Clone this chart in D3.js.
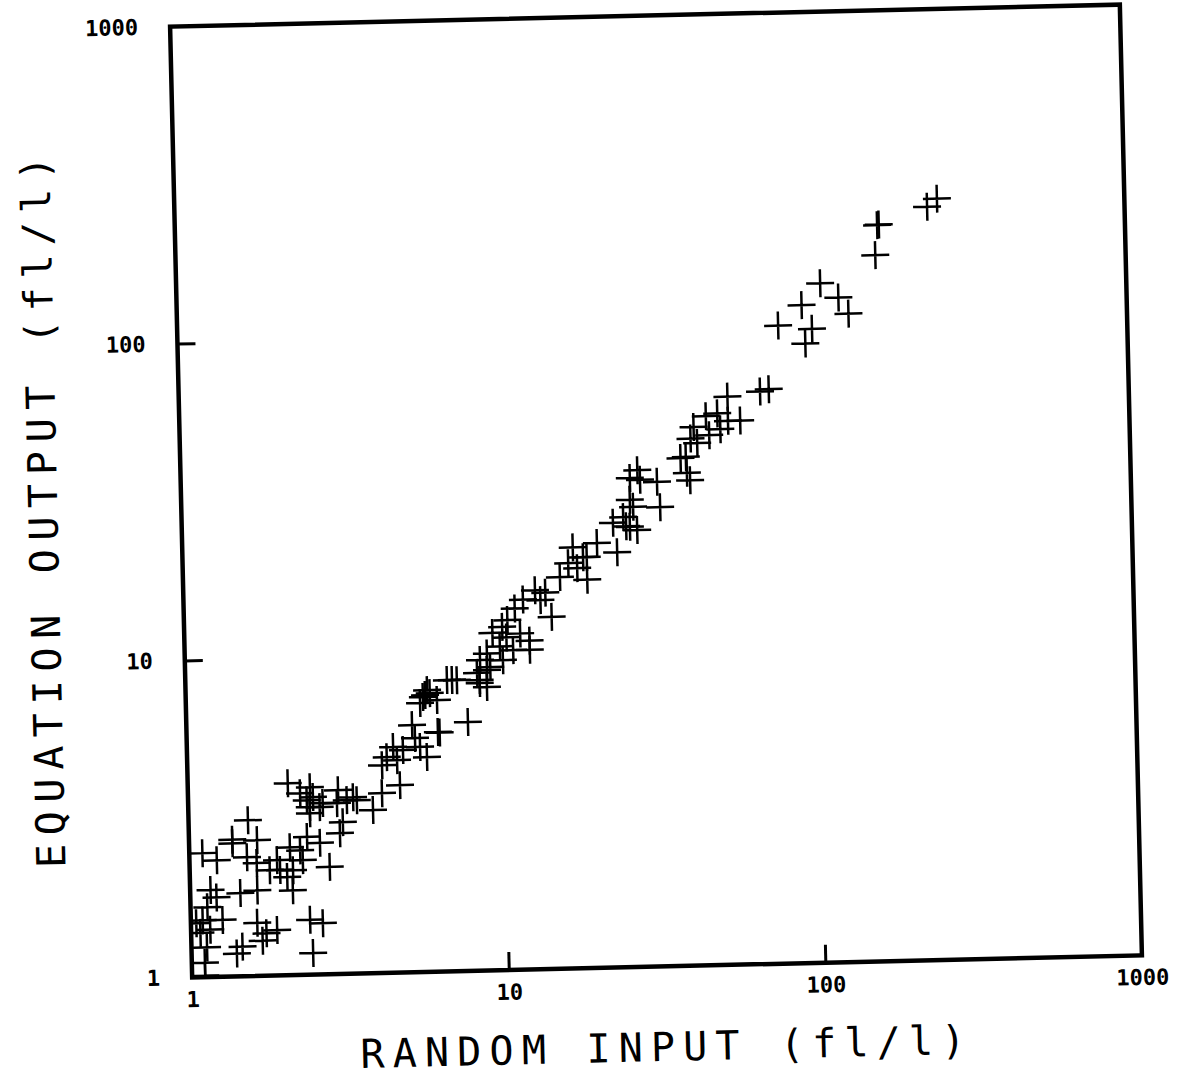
<!DOCTYPE html>
<html>
<head>
<meta charset="utf-8">
<script src="https://cdn.jsdelivr.net/npm/d3@7"></script>
<style>
  html, body { margin: 0; padding: 0; background: #fff; }
  svg { display: block; }
</style>
</head>
<body>
<svg id="chart" width="1185" height="1076"></svg>
<script>
// ---- data ----
const xTitle = "RANDOM INPUT (fl/l)";
const yTitle = "EQUATION OUTPUT (fl/l)";
const tickValues = [1, 10, 100, 1000];
const tickLabels = ["1", "10", "100", "1000"];
const innerTicks = [10, 100];

const randomInput = [
  238, 256, 165, 167, 162, 108, 123, 132, 94, 79, 101, 96,
  68.5, 73, 54, 46, 50, 54, 59, 51, 42, 47, 41, 43, 38, 39.5,
  39.7, 40.6, 27.7, 26.2, 28.2, 31.9, 32.5, 26.1, 26.7, 24.8, 26, 25.3,
  23, 27.4, 23.6, 18.4, 20.4, 17.1, 18.9, 16.5, 17.6, 18.9, 15.5,
  13.9, 12.9, 13.4, 14.5, 11.8, 11.1, 10.5, 10.1, 9.4, 10.4, 11.5,
  12.3, 9.9, 10.9, 12.3, 9.0, 8.55, 9.2, 10.1, 8.35, 8.95, 8.5,
  7.2, 6.95, 6.7, 5.9, 5.61, 8.98, 8.5, 5.7, 6.21, 5.49, 5.79, 7.75,
  6.22, 6.3, 5.16, 5.26, 4.48, 4.81, 5.45, 5.72, 4.27, 4.6, 4.12,
  4.68, 4.1, 2.43, 2.48, 2.98, 3.17, 2.95, 3.32, 2.66, 2.42, 2.07,
  3.83, 3.0, 2.37, 2.26, 2.6, 2.42, 3.41, 3.07, 1.54, 1.37, 1.37,
  1.64, 1.1, 1.22, 1.52, 1.63, 1.79, 1.89, 2.08, 2.24, 2.12, 1.93,
  2.03, 2.11, 2.28, 2.59, 2.36, 2.77, 1.63, 1.44, 1.21, 1.16, 1.13,
  1.26, 1.04, 1.09, 1.07, 1.15, 1.12, 1.1, 1.62, 1.73, 1.87, 1.68,
  1.39, 1.45, 2.38, 2.61, 2.42, 1.1
];
const equationOutput = [
  238, 252, 210, 211, 169, 139, 125, 111, 119, 103, 100, 90,
  64, 65, 62, 54, 55, 52, 52, 49, 50, 47, 46, 44.5, 40, 40.3,
  35.9, 34, 36.9, 34.9, 34.4, 33.8, 28.1, 29.8, 28.3, 26.3, 24.5, 24.6,
  25.3, 23.9, 20.4, 19.8, 21.9, 21.3, 19.8, 19, 18.3, 16.8, 17.2,
  15.4, 15.7, 14.6, 12.9, 14.7, 13.8, 12.7, 12.1, 11.6, 11.2, 11.5,
  10.9, 10.5, 10.2, 10.2, 10.0, 9.55, 9.05, 9.5, 8.7, 7.84, 8.26,
  8.28, 8.3, 8.3, 7.57, 7.37, 8.87, 8.08, 7.47, 7.19, 7.06, 7.74, 6.1,
  5.7, 5.68, 6.02, 5.48, 5.15, 5.03, 5.13, 4.76, 4.79, 4.68, 4.52,
  3.9, 3.69, 3.9, 3.63, 3.8, 3.53, 3.46, 3.6, 3.47, 3.38, 4.03,
  3.27, 2.78, 3.55, 3.74, 3.37, 3.23, 3.52, 3.01, 3.1, 2.63, 2.7,
  2.68, 2.46, 2.33, 2.37, 2.27, 2.15, 2.31, 2.53, 2.47, 2.14, 2.15,
  2.04, 1.85, 2.3, 2.6, 2.72, 2.18, 1.86, 1.83, 1.78, 1.88, 1.66,
  1.51, 1.48, 1.51, 1.38, 1.41, 1.24, 1.11, 1.47, 1.36, 1.39, 1.29,
  1.18, 1.24, 1.49, 1.45, 1.17, 1.01
];

// ---- layout ----
const W = 1185, H = 1076;
const L = 181, R = 1131, T = 15.5, B = 966.5;
const tilt = -1.33;          // the scanned page is slightly rotated
const cx = 656, cy = 491;

const svg = d3.select("#chart");
svg.append("rect").attr("width", W).attr("height", H).attr("fill", "#fff");

const g = svg.append("g").attr("transform", `rotate(${tilt},${cx},${cy})`);

const x = d3.scaleLog().domain([1, 1000]).range([L, R]);
const y = d3.scaleLog().domain([1, 1000]).range([B, T]);

const tickFont = "'DejaVu Sans Mono', 'Liberation Mono', monospace";
const titleFont = "'DejaVu Sans Mono', 'Liberation Mono', monospace";

// clip for markers
g.append("clipPath").attr("id", "plotclip")
  .append("rect").attr("x", L).attr("y", T).attr("width", R - L).attr("height", B - T);

// markers (plus signs)
const arm = 14;
const pts = randomInput.map((v, i) => [v, equationOutput[i]]);
const marks = g.append("g").attr("clip-path", "url(#plotclip)")
  .attr("stroke", "#000").attr("stroke-width", 2.5).attr("fill", "none");
marks.selectAll("path").data(pts).join("path")
  .attr("d", d => {
    const px = x(d[0]), py = y(d[1]);
    return `M${px - arm},${py}H${px + arm}M${px},${py - arm}V${py + arm}`;
  });

// axes (ticks drawn inward, labels outside)
const fmt = d => tickLabels[tickValues.indexOf(d)];
const xAxis = d3.axisBottom(x).tickValues(tickValues).tickFormat(fmt)
  .tickSizeInner(-18).tickSizeOuter(0).tickPadding(14);
const yAxis = d3.axisLeft(y).tickValues(tickValues).tickFormat(fmt)
  .tickSizeInner(-18).tickSizeOuter(0).tickPadding(32);

const gx = g.append("g").attr("transform", `translate(0,${B})`).call(xAxis);
const gy = g.append("g").attr("transform", `translate(${L},0)`).call(yAxis);
[gx, gy].forEach(a => {
  a.select(".domain").remove();
  a.selectAll(".tick line")
    .attr("stroke", "#000").attr("stroke-width", 3)
    .attr("display", d => innerTicks.includes(d) ? null : "none");
  a.selectAll(".tick text")
    .attr("fill", "#000")
    .style("font-family", tickFont)
    .style("font-size", "22px")
    .style("font-weight", "bold");
});

// frame
g.append("rect")
  .attr("x", L).attr("y", T).attr("width", R - L).attr("height", B - T)
  .attr("fill", "none").attr("stroke", "#000").attr("stroke-width", 4.5);

// axis titles
g.append("text")
  .attr("x", (L + R) / 2 - 6).attr("y", 1061)
  .attr("text-anchor", "middle")
  .attr("textLength", 605).attr("lengthAdjust", "spacing")
  .style("font-family", titleFont).style("font-size", "40px")
  .attr("fill", "#000")
  .text(xTitle);

g.append("text")
  .attr("transform", `translate(57,498) rotate(-90)`)
  .attr("text-anchor", "middle")
  .attr("textLength", 712).attr("lengthAdjust", "spacing")
  .style("font-family", titleFont).style("font-size", "40px")
  .attr("fill", "#000")
  .text(yTitle);
</script>
</body>
</html>
